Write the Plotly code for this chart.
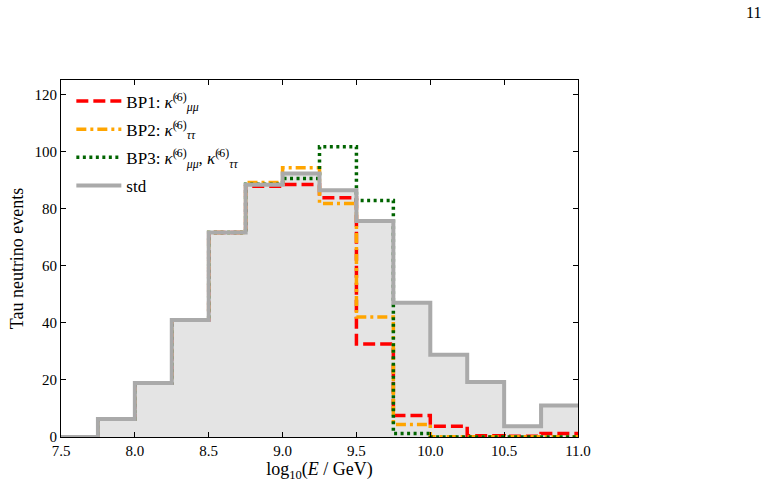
import plotly.graph_objects as go

# bin edges (log10 E/GeV)
edges = [7.5, 7.75, 8.0, 8.25, 8.5, 8.75, 9.0, 9.25, 9.5, 9.75, 10.0, 10.25, 10.5, 10.75, 11.0]
std = [0, 6.3, 18.9, 41.0, 71.6, 88.3, 92.3, 86.4, 75.6, 47.0, 28.8, 19.3, 3.8, 11.0]
bp1 = [0, 6.3, 18.9, 41.0, 71.6, 87.8, 88.4, 83.8, 32.6, 7.5, 3.8, 0.4, 0.3, 1.2]
bp2 = [0, 6.3, 18.9, 41.0, 71.6, 89.1, 94.3, 81.8, 42.0, 4.4, 0.1, 0.1, 0.1, 0.1]
bp3 = [0, 6.3, 18.9, 41.0, 71.6, 88.5, 90.5, 101.6, 82.8, 1.2, 0.0, 0.0, 0.0, 0.0]

x_ticks = [7.5, 8.0, 8.5, 9.0, 9.5, 10.0, 10.5, 11.0]
y_ticks = [0, 20, 40, 60, 80, 100, 120]

FONT = "Liberation Serif"


def step(vals):
    return list(edges), list(vals) + [vals[-1]]


def serif(s):
    return f'<span style="font-family:\'Liberation Serif\'">{s}</span>'


fig = go.Figure()

sx, sy = step(std)
fig.add_trace(go.Scatter(x=sx, y=sy, mode="lines", line_shape="hv",
                         line=dict(width=0, color="rgba(0,0,0,0)"),
                         fill="tozeroy", fillcolor="#e4e4e4",
                         showlegend=False, hoverinfo="skip"))

series = [
    ("BP1: <i>κ̊</i><sup>(6)</sup><sub><i>μμ</i></sub>", bp1, "#ff0000", "12px,5px"),
    ("BP2: <i>κ̊</i><sup>(6)</sup><sub><i>ττ</i></sub>", bp2, "#ffa500", "10px,4px,3px,4px"),
    ("BP3: <i>κ̊</i><sup>(6)</sup><sub><i>μμ</i></sub>, <i>κ̊</i><sup>(6)</sup><sub><i>ττ</i></sub>", bp3, "#006400", "3px,3.5px"),
]

for i, (name, vals, col, dash) in enumerate(series):
    x, y = step(vals)
    fig.add_trace(go.Scatter(x=x, y=y, mode="lines", line_shape="hv",
                             line=dict(width=3.5, color=col, dash=dash),
                             name=serif(name), legendrank=i + 1,
                             legendgroup=f"g{i}"))

fig.add_trace(go.Scatter(x=sx, y=sy, mode="lines", line_shape="hv",
                         line=dict(width=4, color="#aaaaaa"),
                         name=serif("std"), legendrank=4, legendgroup="g3"))

axis_common = dict(showline=True, linecolor="black", linewidth=1, mirror="ticks",
                   ticks="inside", ticklen=5, tickcolor="black", showgrid=False,
                   zeroline=False, tickfont=dict(family=FONT, size=15, color="black"))

fig.update_xaxes(range=[7.5, 11.0], tickvals=x_ticks,
                 ticktext=[f"{v:.1f}" for v in x_ticks],
                 title=dict(text="log<sub>10</sub>(<i>E</i> / GeV)",
                            font=dict(family=FONT, size=18, color="black"), standoff=4),
                 **axis_common)
fig.update_yaxes(range=[0, 125], tickvals=y_ticks,
                 title=dict(text="Tau neutrino events",
                            font=dict(family=FONT, size=18, color="black"), standoff=6),
                 **axis_common)

fig.update_layout(
    width=771, height=491,
    margin=dict(l=61, r=193, t=80, b=54),
    paper_bgcolor="white", plot_bgcolor="white",
    font=dict(family=FONT, size=15, color="black"),
    legend=dict(x=0.02, y=0.99, xanchor="left", yanchor="top",
                bgcolor="rgba(0,0,0,0)", borderwidth=0,
                font=dict(family=FONT, size=17, color="black"),
                itemwidth=45, tracegroupgap=3, traceorder="grouped"),
    annotations=[dict(text="11", xref="paper", yref="paper",
                      x=1.0, y=1.0, xanchor="right", yanchor="top",
                      xshift=185, yshift=78, showarrow=False,
                      font=dict(family=FONT, size=16, color="black"))],
)

fig.write_html("out.html")
